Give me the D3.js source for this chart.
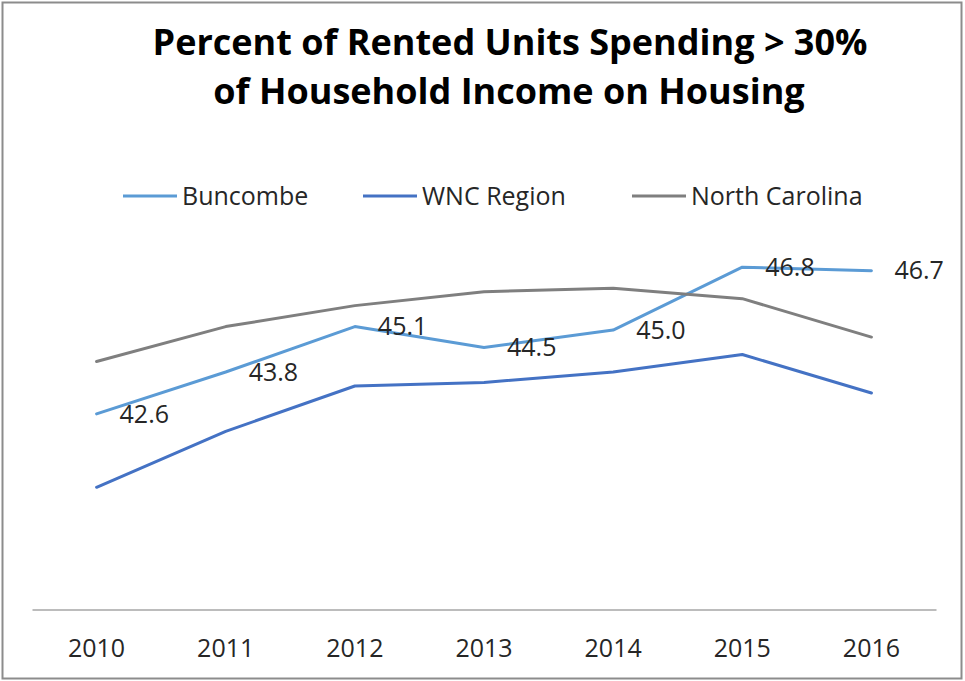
<!DOCTYPE html>
<html>
<head>
<meta charset="utf-8">
<script src="https://cdn.jsdelivr.net/npm/d3@7"></script>
<style>
  body { margin: 0; background: #fff; }
  svg text { font-family: "Open Sans", "Noto Sans", sans-serif; }
</style>
</head>
<body>
<svg id="line-chart" width="965" height="681"></svg>
<script>
var years = ["2010", "2011", "2012", "2013", "2014", "2015", "2016"];
var buncombe = [42.6, 43.8, 45.1, 44.5, 45.0, 46.8, 46.7];
var wncRegion = [40.5, 42.1, 43.4, 43.5, 43.8, 44.3, 43.2];
var northCarolina = [44.1, 45.1, 45.7, 46.1, 46.2, 45.9, 44.8];
var seriesNames = ["Buncombe", "WNC Region", "North Carolina"];
var colors = ["#5b9bd5", "#4472c4", "#7f7f7f"];

var svg = d3.select("#line-chart");

// chart frame
svg.append("rect")
    .attr("x", 2.5).attr("y", 2.5)
    .attr("width", 959).attr("height", 676)
    .attr("fill", "#fff")
    .attr("stroke", "#8c8c8c")
    .attr("stroke-width", 2);

var margin = { left: 32, right: 29 };
var plotTop = 225.3, plotBottom = 609.5;

var x = d3.scaleBand().domain(years).range([margin.left, 965 - margin.right]);
var y = d3.scaleLinear().domain([37, 48]).range([plotBottom, plotTop]);

// title
var title = svg.append("text")
    .attr("text-anchor", "middle")
    .style("font-weight", "bold")
    .style("font-size", "36px")
    .attr("fill", "#000");
title.append("tspan").attr("x", 510).attr("y", 55).text("Percent of Rented Units Spending > 30%");
title.append("tspan").attr("x", 509).attr("y", 104).text("of Household Income on Housing");

// x axis
var xAxis = d3.axisBottom(x).tickSize(0).tickPadding(29.5);
var gx = svg.append("g")
    .attr("transform", "translate(0," + plotBottom + ")")
    .call(xAxis);
gx.select(".domain").attr("stroke", "#a6a6a6").attr("stroke-width", 1.5);
gx.selectAll("text")
    .style("font-family", "'Open Sans', sans-serif")
    .style("font-size", "25px")
    .attr("fill", "#262626");

// lines
var line = d3.line()
    .x(function (d, i) { return x(years[i]) + x.bandwidth() / 2; })
    .y(function (d) { return y(d); });

svg.selectAll(".line")
    .data([buncombe, wncRegion, northCarolina])
    .enter()
    .append("path")
    .attr("class", "line")
    .attr("fill", "none")
    .attr("stroke", function (d, i) { return colors[i]; })
    .attr("stroke-width", 3)
    .attr("stroke-linejoin", "round")
    .attr("stroke-linecap", "round")
    .attr("d", line);

// data labels for Buncombe
svg.selectAll(".label")
    .data(buncombe)
    .enter()
    .append("text")
    .attr("class", "label")
    .attr("x", function (d, i) { return x(years[i]) + x.bandwidth() / 2 + 23; })
    .attr("y", function (d) { return y(d); })
    .attr("dy", "0.35em")
    .style("font-size", "25px")
    .attr("fill", "#262626")
    .text(function (d) { return d.toFixed(1); });

// legend
var legendX = [123, 363, 632];
var legend = svg.selectAll(".lineLegend")
    .data(seriesNames)
    .enter()
    .append("g")
    .attr("class", "lineLegend")
    .attr("transform", function (d, i) { return "translate(" + legendX[i] + ",196)"; });

legend.append("line")
    .attr("x1", 0).attr("x2", 54)
    .attr("stroke", function (d, i) { return colors[i]; })
    .attr("stroke-width", 3);

legend.append("text")
    .attr("x", 59)
    .attr("dy", "0.35em")
    .style("font-size", "25px")
    .attr("fill", "#262626")
    .text(function (d) { return d; });
</script>
</body>
</html>
